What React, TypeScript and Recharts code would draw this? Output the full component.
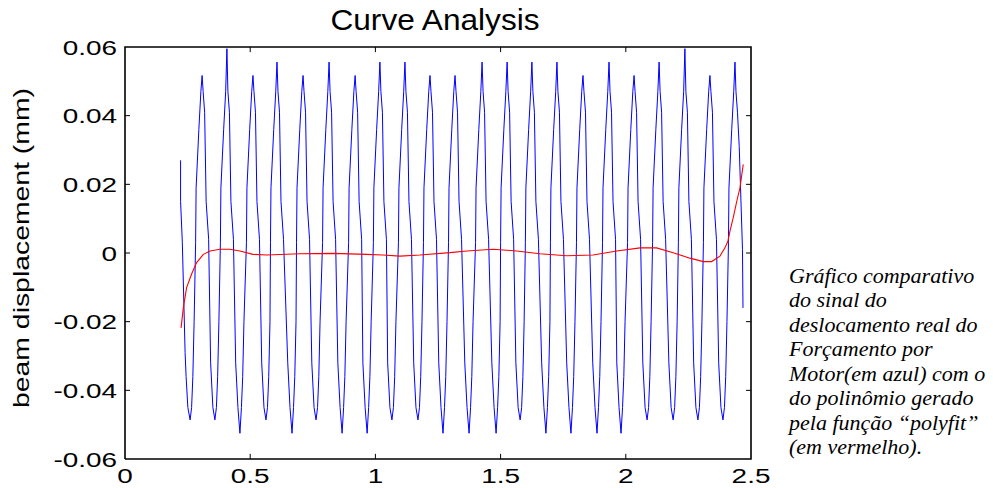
import { LineChart, Line, XAxis, YAxis, Label } from "recharts";

// measured beam displacement (blue), [time, mm]
const signalStart: [number, number][] = [
  [0.222, 0.027], [0.222, 0.015], [0.229, 0.003], [0.240, -0.029], [0.244, -0.036], [0.251, -0.045], [0.260, -0.0486],
  [0.266, -0.045], [0.271, -0.036], [0.276, -0.020], [0.282, 0.003], [0.284, 0.019], [0.295, 0.036], [0.303, 0.047],
];

const signalCycles: [number, number][][] = [
  [[0.308, 0.0517], [0.312, 0.047], [0.318, 0.041], [0.324, 0.015], [0.334, 0.004], [0.342, -0.032], [0.351, -0.045], [0.359, -0.0486], [0.365, -0.045], [0.370, -0.036], [0.375, -0.020], [0.381, 0.003], [0.383, 0.019], [0.394, 0.036], [0.402, 0.047]],
  [[0.407, 0.0595], [0.411, 0.047], [0.417, 0.041], [0.423, 0.015], [0.433, 0.004], [0.442, -0.032], [0.451, -0.045], [0.459, -0.0525], [0.465, -0.045], [0.470, -0.036], [0.475, -0.020], [0.485, 0.003], [0.487, 0.019], [0.498, 0.036], [0.506, 0.047]],
  [[0.511, 0.0517], [0.515, 0.047], [0.521, 0.041], [0.527, 0.015], [0.537, 0.004], [0.546, -0.032], [0.555, -0.045], [0.563, -0.0486], [0.569, -0.045], [0.574, -0.036], [0.579, -0.020], [0.581, 0.003], [0.583, 0.019], [0.594, 0.036], [0.602, 0.047]],
  [[0.607, 0.0556], [0.611, 0.047], [0.617, 0.041], [0.623, 0.015], [0.633, 0.004], [0.650, -0.032], [0.659, -0.045], [0.667, -0.0525], [0.673, -0.045], [0.678, -0.036], [0.683, -0.020], [0.685, 0.003], [0.687, 0.019], [0.698, 0.036], [0.706, 0.047]],
  [[0.711, 0.0517], [0.715, 0.047], [0.721, 0.041], [0.727, 0.015], [0.737, 0.004], [0.746, -0.032], [0.755, -0.045], [0.763, -0.0486], [0.769, -0.045], [0.774, -0.036], [0.779, -0.020], [0.789, 0.003], [0.791, 0.019], [0.802, 0.036], [0.810, 0.047]],
  [[0.815, 0.0556], [0.819, 0.047], [0.825, 0.041], [0.831, 0.015], [0.841, 0.004], [0.850, -0.032], [0.859, -0.045], [0.867, -0.0525], [0.873, -0.045], [0.878, -0.036], [0.883, -0.020], [0.893, 0.003], [0.895, 0.019], [0.906, 0.036], [0.914, 0.047]],
  [[0.919, 0.0517], [0.923, 0.047], [0.929, 0.041], [0.935, 0.015], [0.945, 0.004], [0.950, -0.032], [0.959, -0.045], [0.967, -0.0525], [0.973, -0.045], [0.978, -0.036], [0.983, -0.020], [0.992, 0.003], [0.994, 0.019], [1.005, 0.036], [1.013, 0.047]],
  [[1.018, 0.0556], [1.022, 0.047], [1.028, 0.041], [1.034, 0.015], [1.044, 0.004], [1.049, -0.032], [1.058, -0.045], [1.066, -0.0486], [1.072, -0.045], [1.077, -0.036], [1.082, -0.020], [1.092, 0.003], [1.094, 0.019], [1.105, 0.036], [1.113, 0.047]],
  [[1.118, 0.0556], [1.122, 0.047], [1.128, 0.041], [1.134, 0.015], [1.144, 0.004], [1.153, -0.032], [1.162, -0.045], [1.170, -0.0486], [1.176, -0.045], [1.181, -0.036], [1.186, -0.020], [1.192, 0.003], [1.194, 0.019], [1.205, 0.036], [1.213, 0.047]],
  [[1.218, 0.0517], [1.222, 0.047], [1.228, 0.041], [1.234, 0.015], [1.244, 0.004], [1.253, -0.032], [1.262, -0.045], [1.270, -0.0525], [1.276, -0.045], [1.281, -0.036], [1.286, -0.020], [1.292, 0.003], [1.294, 0.019], [1.305, 0.036], [1.313, 0.047]],
  [[1.318, 0.0517], [1.322, 0.047], [1.328, 0.041], [1.334, 0.015], [1.344, 0.004], [1.357, -0.032], [1.366, -0.045], [1.374, -0.0525], [1.380, -0.045], [1.385, -0.036], [1.390, -0.020], [1.400, 0.003], [1.402, 0.019], [1.413, 0.036], [1.421, 0.047]],
  [[1.426, 0.0556], [1.430, 0.047], [1.436, 0.041], [1.442, 0.015], [1.452, 0.004], [1.465, -0.032], [1.474, -0.045], [1.482, -0.0525], [1.488, -0.045], [1.493, -0.036], [1.498, -0.020], [1.500, 0.003], [1.502, 0.019], [1.513, 0.036], [1.521, 0.047]],
  [[1.526, 0.0556], [1.530, 0.047], [1.536, 0.041], [1.542, 0.015], [1.552, 0.004], [1.561, -0.032], [1.570, -0.045], [1.578, -0.0486], [1.584, -0.045], [1.589, -0.036], [1.594, -0.020], [1.599, 0.003], [1.601, 0.019], [1.612, 0.036], [1.620, 0.047]],
  [[1.625, 0.0556], [1.629, 0.047], [1.635, 0.041], [1.641, 0.015], [1.651, 0.004], [1.664, -0.032], [1.673, -0.045], [1.681, -0.0525], [1.687, -0.045], [1.692, -0.036], [1.697, -0.020], [1.699, 0.003], [1.701, 0.019], [1.712, 0.036], [1.720, 0.047]],
  [[1.725, 0.0556], [1.729, 0.047], [1.735, 0.041], [1.741, 0.015], [1.751, 0.004], [1.764, -0.032], [1.773, -0.045], [1.781, -0.0525], [1.787, -0.045], [1.792, -0.036], [1.797, -0.020], [1.803, 0.003], [1.805, 0.019], [1.816, 0.036], [1.824, 0.047]],
  [[1.829, 0.0517], [1.833, 0.047], [1.839, 0.041], [1.845, 0.015], [1.855, 0.004], [1.868, -0.032], [1.877, -0.045], [1.885, -0.0525], [1.891, -0.045], [1.896, -0.036], [1.901, -0.020], [1.907, 0.003], [1.909, 0.019], [1.920, 0.036], [1.928, 0.047]],
  [[1.933, 0.0556], [1.937, 0.047], [1.943, 0.041], [1.949, 0.015], [1.959, 0.004], [1.964, -0.032], [1.973, -0.045], [1.981, -0.0525], [1.987, -0.045], [1.992, -0.036], [1.997, -0.020], [2.007, 0.003], [2.009, 0.019], [2.020, 0.036], [2.028, 0.047]],
  [[2.033, 0.0517], [2.037, 0.047], [2.043, 0.041], [2.049, 0.015], [2.059, 0.004], [2.068, -0.032], [2.077, -0.045], [2.085, -0.0486], [2.091, -0.045], [2.096, -0.036], [2.101, -0.020], [2.107, 0.003], [2.109, 0.019], [2.120, 0.036], [2.128, 0.047]],
  [[2.133, 0.0556], [2.137, 0.047], [2.143, 0.041], [2.149, 0.015], [2.159, 0.004], [2.172, -0.032], [2.181, -0.045], [2.189, -0.0486], [2.195, -0.045], [2.200, -0.036], [2.205, -0.020], [2.210, 0.003], [2.212, 0.019], [2.223, 0.036], [2.231, 0.047]],
  [[2.236, 0.0595], [2.240, 0.047], [2.246, 0.041], [2.252, 0.015], [2.262, 0.004], [2.271, -0.032], [2.280, -0.045], [2.288, -0.0486], [2.294, -0.045], [2.299, -0.036], [2.304, -0.020], [2.310, 0.003], [2.312, 0.019], [2.323, 0.036], [2.331, 0.047]],
  [[2.336, 0.0517], [2.340, 0.047], [2.346, 0.041], [2.352, 0.015], [2.362, 0.004], [2.371, -0.032], [2.380, -0.045], [2.388, -0.0486], [2.394, -0.045], [2.399, -0.036], [2.404, -0.020], [2.410, 0.003], [2.412, 0.019], [2.423, 0.036], [2.431, 0.047]],
  [[2.436, 0.0556], [2.440, 0.047], [2.446, 0.041], [2.453, 0.031], [2.466, 0.001], [2.468, -0.016]],
];

// polyfit result (red)
const polyfit: [number, number][] = [
  [0.224, -0.0218], [0.233, -0.0159], [0.246, -0.0101], [0.266, -0.0061], [0.286, -0.0028], [0.313, -0.0004],
  [0.340, 0.0006], [0.379, 0.0011], [0.419, 0.0011], [0.459, 0.0006], [0.511, -0.0004], [0.566, -0.0006],
  [0.699, -0.0002], [0.831, -0.0001], [0.965, -0.0004], [1.030, -0.0006], [1.098, -0.0009], [1.178, -0.0006],
  [1.298, 0.0001], [1.365, 0.0006], [1.470, 0.0011], [1.564, 0.0006], [1.657, -0.0002], [1.764, -0.0008],
  [1.869, -0.0006], [1.964, 0.0006], [2.057, 0.0015], [2.123, 0.0015], [2.189, 0.0001], [2.256, -0.0015],
  [2.310, -0.0025], [2.343, -0.0025], [2.376, -0.0009], [2.396, 0.0015], [2.408, 0.0035], [2.416, 0.0064],
  [2.429, 0.0103], [2.443, 0.015], [2.456, 0.019], [2.469, 0.0258],
];

const xTicks = [0, 0.5, 1, 1.5, 2, 2.5];
const yTicks = [-0.06, -0.04, -0.02, 0, 0.02, 0.04, 0.06];
const X_DOMAIN: [number, number] = [0, 2.5];
const Y_DOMAIN: [number, number] = [-0.06, 0.06];
// inward tick length, in data units (about 5px)
const X_TICK_LEN = 0.02;
const Y_TICK_LEN = 0.0015;

const title = "Curve Analysis";
const yLabel = "beam displacement (mm)";
const caption = [
  "Gráfico comparativo",
  "do sinal do",
  "deslocamento real do",
  "Forçamento por",
  "Motor(em azul) com o",
  "do polinômio gerado",
  "pela função “polyfit”",
  "(em vermelho).",
];

const blueData = [...signalStart, ...signalCycles.flat()].map(([x, y]) => ({ x, y }));
const redData = polyfit.map(([x, y]) => ({ x, y }));

// MATLAB-style box around the axes, as a closed line through the domain corners
const [x0, x1] = X_DOMAIN;
const [y0, y1] = Y_DOMAIN;
const frameData = [
  { x: x0, y: y0 },
  { x: x0, y: y1 },
  { x: x1, y: y1 },
  { x: x1, y: y0 },
  { x: x0, y: y0 },
];

// inward tick marks on all four sides, separated by gaps
const gap = { x: x0, y: null as number | null };
const tickData: { x: number; y: number | null }[] = [
  ...xTicks.slice(1, -1).flatMap((t) => [
    { x: t, y: y0 }, { x: t, y: y0 + Y_TICK_LEN }, gap,
    { x: t, y: y1 }, { x: t, y: y1 - Y_TICK_LEN }, gap,
  ]),
  ...yTicks.slice(1, -1).flatMap((t) => [
    { x: x0, y: t }, { x: x0 + X_TICK_LEN, y: t }, gap,
    { x: x1 - X_TICK_LEN, y: t }, { x: x1, y: t }, gap,
  ]),
];

const FONT = "'Liberation Sans', Arial, Helvetica, sans-serif";

const fmtY = (v: number) => (v === 0 ? "0" : v.toFixed(2));

const BottomTick = ({ x, y, payload }: any) => (
  <text
    transform={`translate(${x},${y + 24}) scale(1.33,1)`}
    textAnchor="middle"
    fontFamily={FONT}
    fontSize={21}
    fill="#000"
  >
    {String(payload.value)}
  </text>
);

const LeftTick = ({ x, y, payload }: any) => (
  <text
    transform={`translate(${x - 8},${y + 7.5}) scale(1.33,1)`}
    textAnchor="end"
    fontFamily={FONT}
    fontSize={21}
    fill="#000"
  >
    {fmtY(payload.value)}
  </text>
);

const YLabel = () => (
  <text
    transform="translate(28.5,248) rotate(-90) scale(1.32,1)"
    textAnchor="middle"
    fontFamily={FONT}
    fontSize={21.5}
    fill="#000"
  >
    {yLabel}
  </text>
);

export default function App() {
  return (
    <div style={{ position: "absolute", left: 0, top: 0, width: 993, height: 488, background: "#fff" }}>
      <div
        style={{
          position: "absolute",
          left: 0,
          top: 6,
          width: 870,
          textAlign: "center",
          fontFamily: FONT,
          fontSize: 29,
          lineHeight: "29px",
          transform: "scaleX(1.09)",
          color: "#000",
        }}
      >
        {title}
      </div>
      <div
        style={{
          position: "absolute",
          left: 789,
          top: 263.6,
          fontFamily: "'Liberation Serif', 'Times New Roman', serif",
          fontStyle: "italic",
          fontSize: 22,
          lineHeight: "24.5px",
          whiteSpace: "pre",
          color: "#000",
        }}
      >
        {caption.join("\n")}
      </div>
      <LineChart width={993} height={488} margin={{ top: 47, right: 242, bottom: 0, left: 0 }}>
        <XAxis
          xAxisId="b"
          dataKey="x"
          type="number"
          domain={X_DOMAIN}
          ticks={xTicks}
          height={29}
          tickSize={0}
          tickMargin={0}
          tick={<BottomTick />}
          axisLine={false}
          tickLine={false}
          interval={0}
        />
        <YAxis
          yAxisId="l"
          type="number"
          domain={Y_DOMAIN}
          ticks={yTicks}
          width={125}
          tickSize={0}
          tickMargin={0}
          tick={<LeftTick />}
          axisLine={false}
          tickLine={false}
          interval={0}
        >
          <Label content={<YLabel />} />
        </YAxis>
        <Line
          xAxisId="b"
          yAxisId="l"
          data={frameData}
          dataKey="y"
          type="linear"
          stroke="#000"
          strokeWidth={1.6}
          dot={false}
          activeDot={false}
          isAnimationActive={false}
        />
        <Line
          xAxisId="b"
          yAxisId="l"
          data={tickData}
          dataKey="y"
          type="linear"
          stroke="#000"
          strokeWidth={1}
          connectNulls={false}
          dot={false}
          activeDot={false}
          isAnimationActive={false}
        />
        <Line
          xAxisId="b"
          yAxisId="l"
          data={blueData}
          dataKey="y"
          type="linear"
          stroke="#0000ff"
          strokeWidth={1}
          dot={false}
          activeDot={false}
          isAnimationActive={false}
        />
        <Line
          xAxisId="b"
          yAxisId="l"
          data={redData}
          dataKey="y"
          type="linear"
          stroke="#ff0000"
          strokeWidth={1.1}
          dot={false}
          activeDot={false}
          isAnimationActive={false}
        />
      </LineChart>
    </div>
  );
}
